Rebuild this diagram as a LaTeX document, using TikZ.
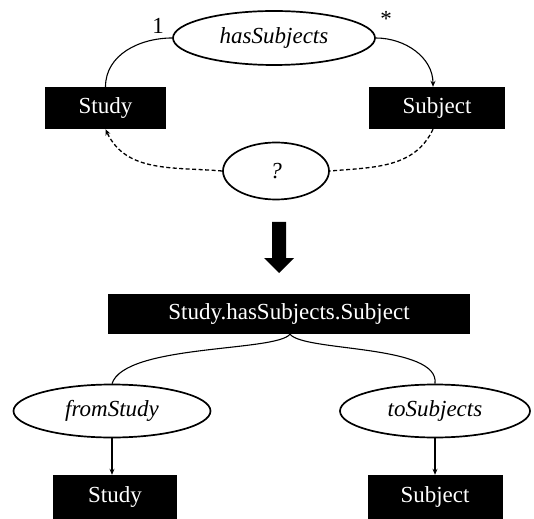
\documentclass[tikz,border=0pt]{standalone}
\usepackage{fontspec}
\setmainfont{Liberation Serif}
\usetikzlibrary{shapes.geometric,arrows.meta}
\begin{document}
\begin{tikzpicture}[x=1pt,y=-1pt,
  every node/.style={font=\fontsize{23}{27}\selectfont},
  cls/.style={rectangle,fill=black,text=white,inner sep=0pt},
  rel/.style={ellipse,draw=black,line width=1.7pt,inner sep=0pt,font=\fontsize{23}{27}\selectfont\itshape},
  conn/.style={line width=1.1pt},
  tip/.style={-{Stealth[length=6pt,width=5pt]}},
  dsh/.style={line width=1.3pt,dash pattern=on 4pt off 2.5pt}
]
\useasboundingbox (0,0) rectangle (534,518);
\node[rel,minimum width=202pt,minimum height=54pt] (hs) at (274,38) {hasSubjects};
\node[cls,minimum width=121pt,minimum height=42pt] (study1) at (105.5,108) {Study};
\node[cls,minimum width=136pt,minimum height=42pt] (subj1) at (437,108) {Subject};
\node[rel,minimum width=106pt,minimum height=57pt] (q) at (276,171) {?};
\node (one) at (158,26) {1};
\node (star) at (386,19) {*};
\draw[conn] (hs.west) to[out=180,in=90] (study1.north);
\draw[conn,tip] (hs.east) to[out=0,in=90] ([xshift=-4pt]subj1.north);
\draw[dsh] ([xshift=-4pt]subj1.south) to[out=-115,in=5] (q.east);
\draw[dsh,tip] (q.west) to[out=175,in=-65] (study1.south);
\fill (272,222) -- (286,222) -- (286,258) -- (294,258) -- (279,273) -- (264,258) -- (272,258) -- cycle;
\node[cls,minimum width=362pt,minimum height=40pt] (mid) at (289,314) {Study.hasSubjects.Subject};
\node[rel,minimum width=197pt,minimum height=53pt] (fs) at (112,411) {fromStudy};
\node[rel,minimum width=190pt,minimum height=53pt] (ts) at (435,411) {toSubjects};
\node[cls,minimum width=124pt,minimum height=44pt] (study2) at (115,497) {Study};
\node[cls,minimum width=135pt,minimum height=44pt] (subj2) at (435,497) {Subject};
\draw[conn] ([xshift=1pt]mid.south) .. controls (276,352) and (125,344) .. (fs.north);
\draw[conn] ([xshift=1pt]mid.south) .. controls (304,352) and (440,344) .. (ts.north);
\draw[conn,tip] (fs.south) -- (fs.south |- study2.north);
\draw[conn,tip] (ts.south) -- (ts.south |- subj2.north);
\end{tikzpicture}
\end{document}
